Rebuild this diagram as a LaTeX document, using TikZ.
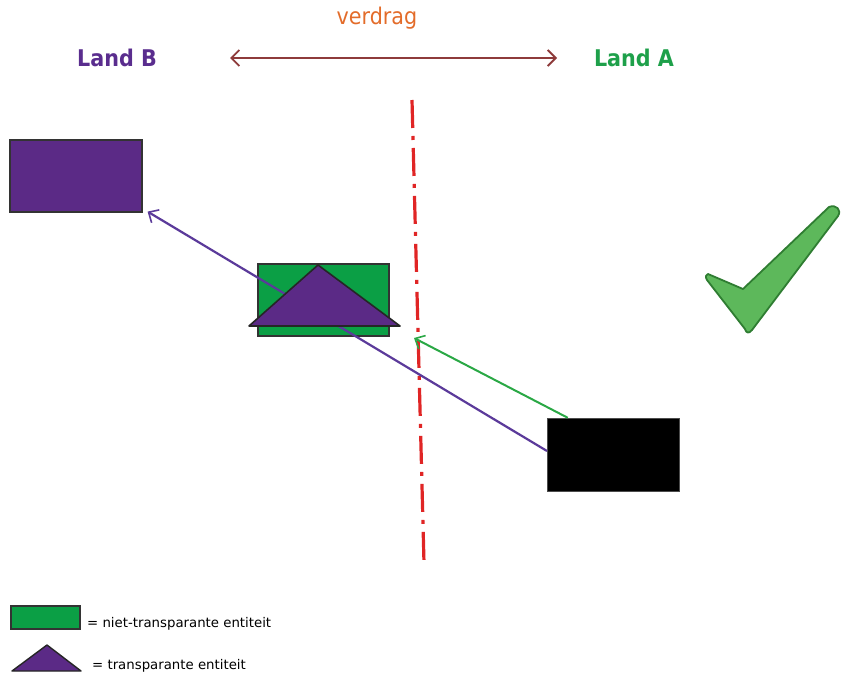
\documentclass[tikz,border=0pt]{standalone}
\usepackage{fontspec}
\setmainfont{DejaVu Sans}
\newfontfamily\condbold{DejaVu Sans Condensed Bold}
\newfontfamily\cond{DejaVu Sans Condensed}
\usetikzlibrary{arrows.meta}
\definecolor{pur}{HTML}{5B2A86}
\definecolor{purtxt}{HTML}{5A2D8E}
\definecolor{grn}{HTML}{0B9F45}
\definecolor{grntxt}{HTML}{1EA04A}
\definecolor{darkred}{HTML}{8E3B3B}
\definecolor{orng}{HTML}{E36C2A}
\definecolor{redl}{HTML}{E02525}
\definecolor{grnarrow}{HTML}{2AA845}
\definecolor{purarrow}{HTML}{5B3A9A}
\definecolor{checkfill}{HTML}{5DB85B}
\definecolor{checkdraw}{HTML}{2F7D32}
\tikzset{
  entbox/.style={draw=black!80, line width=1.2pt},
  barb/.style={-{Straight Barb[length=8pt,width=15pt,line width=1.6pt]}},
  legtxt/.style={anchor=west, inner sep=0pt, font=\fontsize{13.3}{15}\selectfont},
}
\begin{document}
\begin{tikzpicture}[x=1pt,y=-1pt]
\useasboundingbox (0,0) rectangle (846,677);
% titles
\node[text=orng, font=\cond\fontsize{23}{25}\selectfont, inner sep=0pt] (verdrag) at (377,18) {verdrag};
\node[text=purtxt, font=\condbold\fontsize{23}{25}\selectfont, inner sep=0pt] (landB) at (117,58) {Land B};
\node[text=grntxt, font=\condbold\fontsize{23}{25}\selectfont, inner sep=0pt] (landA) at (634,58) {Land A};
\coordinate (arL) at (230,58);
\coordinate (arR) at (557,58);
\draw[darkred, line width=2pt, {Straight Barb[length=8pt,width=16pt,line width=1.8pt]}-{Straight Barb[length=8pt,width=16pt,line width=1.8pt]}] (arL) -- (arR);
% treaty border line
\coordinate (bTop) at (412,100);
\coordinate (bBot) at (424,563);
\draw[redl, line width=3.2pt, dash pattern=on 28pt off 8pt on 4pt off 8pt] (bTop) -- (bBot);
% entities
\node[entbox, fill=pur, minimum width=132pt, minimum height=72pt, inner sep=0pt] (boxB) at (76,176) {};
\node[entbox, fill=grn, minimum width=131pt, minimum height=72pt, inner sep=0pt] (boxG) at (323.5,300) {};
\node[draw=black!70, fill=black, minimum width=132pt, minimum height=73pt, inner sep=0pt] (boxK) at (613,454.5) {};
% connectors
\coordinate (gTip) at (414,338);
\draw[grnarrow, line width=2pt, barb] (boxK.north west) ++(21,0) coordinate (gStart) -- (gTip);
\coordinate (pStart) at (547,451);
\draw[purarrow, line width=2.2pt, barb] (pStart) -- ([xshift=5pt,yshift=1pt]boxB.south east);
% transparent entity triangle on top
\coordinate (tA) at (318,265);
\coordinate (tL) at (249,326);
\coordinate (tR) at (400,326);
\draw[fill=pur, draw=black!85, line width=1.6pt, line join=round] (tA) -- (tL) -- (tR) -- cycle;
% check mark
\draw[fill=checkfill, draw=checkdraw, line width=1.8pt, line join=round]
  (708,274) -- (743,289) -- (829,207)
  .. controls (836,204) and (842,210) .. (838,216)
  -- (752,330) .. controls (749,334) and (746,333) .. (745,329)
  -- (707,280) .. controls (705,277) and (706,274) .. (708,274) -- cycle;
% legend
\node[entbox, fill=grn, minimum width=69pt, minimum height=23pt, inner sep=0pt] (legG) at (45.5,617.5) {};
\node[legtxt] (legGt) at (87,624) {= niet-transparante entiteit};
\coordinate (lA) at (47,645);
\coordinate (lL) at (12,671);
\coordinate (lR) at (81,671);
\draw[fill=pur, draw=black!85, line width=1.4pt, line join=round] (lA) -- (lL) -- (lR) -- cycle;
\node[legtxt] (legTt) at (92,666) {= transparante entiteit};
\end{tikzpicture}
\end{document}
